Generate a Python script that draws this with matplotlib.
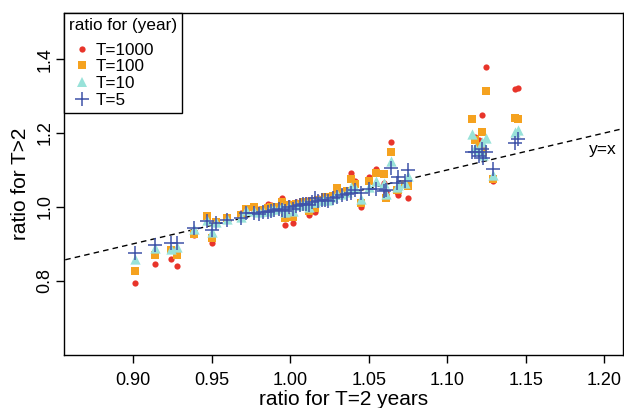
import matplotlib
matplotlib.use("Agg")
import matplotlib.pyplot as plt
from matplotlib.lines import Line2D

plt.rcParams['font.family'] = ['Liberation Sans', 'DejaVu Sans']

# ratio for T=2 years (one value per station)
x_t2 = [0.901, 0.914, 0.924, 0.928, 0.939, 0.947, 0.950, 0.953, 0.960, 0.969,
        0.972, 0.977, 0.980, 0.983, 0.986, 0.988, 0.990, 0.993, 0.995, 0.997,
        0.999, 1.002, 1.004, 1.006, 1.008, 1.010, 1.012, 1.014, 1.016, 1.018,
        1.020, 1.022, 1.024, 1.027, 1.030, 1.033, 1.036, 1.039, 1.041, 1.045,
        1.050, 1.055, 1.060, 1.061, 1.064, 1.068, 1.069, 1.073, 1.075,
        1.116, 1.118, 1.120, 1.122, 1.123, 1.125, 1.129, 1.143, 1.145]

y_t1000 = [0.793, 0.845, 0.859, 0.839, 0.925, 0.978, 0.903, 0.962, 0.966, 0.983,
           0.990, 0.985, 0.995, 0.992, 1.007, 1.005, 1.002, 1.004, 1.024, 0.951,
           1.010, 0.957, 1.012, 1.008, 1.016, 1.018, 0.978, 1.020, 0.986, 1.024,
           1.022, 1.030, 1.030, 1.026, 1.045, 1.040, 1.044, 1.093, 1.070, 1.001,
           1.080, 1.102, 1.064, 1.040, 1.177, 1.040, 1.033, 1.060, 1.024,
           1.237, 1.190, 1.182, 1.250, 1.160, 1.379, 1.070, 1.319, 1.321]

y_t100 = [0.827, 0.871, 0.883, 0.871, 0.927, 0.974, 0.917, 0.960, 0.969, 0.977,
          0.995, 0.999, 0.990, 0.992, 0.996, 1.000, 0.998, 1.000, 1.014, 0.969,
          1.006, 0.972, 1.008, 1.006, 1.012, 1.014, 0.990, 1.016, 0.998, 1.020,
          1.020, 1.026, 1.028, 1.030, 1.051, 1.038, 1.042, 1.075, 1.062, 1.010,
          1.069, 1.093, 1.089, 1.024, 1.149, 1.046, 1.046, 1.062, 1.057,
          1.237, 1.180, 1.164, 1.202, 1.150, 1.313, 1.075, 1.241, 1.239]

y_t10 = [0.859, 0.890, 0.885, 0.892, 0.939, 0.965, 0.933, 0.958, 0.966, 0.972,
         0.992, 0.988, 0.985, 0.988, 0.990, 0.995, 0.994, 0.997, 1.000, 0.985,
         1.002, 0.988, 1.004, 1.006, 1.009, 1.010, 1.000, 1.013, 1.012, 1.018,
         1.019, 1.022, 1.020, 1.027, 1.035, 1.036, 1.040, 1.055, 1.050, 1.021,
         1.055, 1.070, 1.065, 1.035, 1.123, 1.055, 1.060, 1.066, 1.085,
         1.198, 1.160, 1.155, 1.175, 1.140, 1.186, 1.087, 1.204, 1.208]

y_t5 = [0.874, 0.897, 0.901, 0.901, 0.944, 0.963, 0.938, 0.957, 0.965, 0.969,
        0.983, 0.983, 0.982, 0.985, 0.986, 0.990, 0.991, 0.994, 0.992, 0.990,
        0.999, 0.995, 1.003, 1.005, 1.007, 1.008, 1.005, 1.012, 1.024, 1.017,
        1.019, 1.020, 1.015, 1.025, 1.028, 1.033, 1.036, 1.037, 1.045, 1.037,
        1.048, 1.048, 1.042, 1.045, 1.105, 1.065, 1.082, 1.069, 1.099,
        1.150, 1.150, 1.137, 1.157, 1.132, 1.150, 1.103, 1.173, 1.184]

series_labels = ["T=1000", "T=100", "T=10", "T=5"]
c_red = "#E8342A"
c_orange = "#F5A21F"
c_cyan = "#98E2D9"
c_blue = "#3E52A8"

fig = plt.figure(figsize=(6.24, 4.08), dpi=100)
ax = fig.add_axes([0.1026, 0.130, 0.8958, 0.838])

ax.plot([0.8, 1.3], [0.8, 1.3], linestyle=(0, (4, 3)), color="black", lw=1.0, zorder=1)
ax.scatter(x_t2, y_t1000, marker="o", s=20, color=c_red, linewidths=0, zorder=2)
ax.scatter(x_t2, y_t100, marker="s", s=34, color=c_orange, linewidths=0, zorder=3)
ax.scatter(x_t2, y_t10, marker="^", s=55, color=c_cyan, linewidths=0, zorder=4)
ax.scatter(x_t2, y_t5, marker="+", s=90, color=c_blue, linewidths=1.1, zorder=5)

ax.text(1.1906, 1.155, "y=x", fontsize=12.5, ha="left", va="center")

ax.set_xlim(0.856, 1.212)
ax.set_ylim(0.599, 1.525)
ax.set_xticks([0.90, 0.95, 1.00, 1.05, 1.10, 1.15, 1.20])
ax.set_xticklabels(["0.90", "0.95", "1.00", "1.05", "1.10", "1.15", "1.20"])
ax.set_yticks([0.8, 1.0, 1.2, 1.4])
ax.set_yticklabels(["0.8", "1.0", "1.2", "1.4"], rotation=90, va="center")
ax.tick_params(axis="both", direction="out", length=6, width=1, labelsize=13)
ax.tick_params(axis="x", pad=6)
ax.tick_params(axis="y", pad=1.5)
for sp in ax.spines.values():
    sp.set_linewidth(1.0)

ax.set_xlabel("ratio for T=2 years", fontsize=15, labelpad=1)
ax.set_ylabel("ratio for T>2", fontsize=15, labelpad=5)

handles = [
    Line2D([], [], marker="o", linestyle="none", color=c_red, markersize=4.5, markeredgewidth=0),
    Line2D([], [], marker="s", linestyle="none", color=c_orange, markersize=6, markeredgewidth=0),
    Line2D([], [], marker="^", linestyle="none", color=c_cyan, markersize=7.5, markeredgewidth=0),
    Line2D([], [], marker="+", linestyle="none", color=c_blue, markersize=9.5, markeredgewidth=1.1),
]
leg = ax.legend(handles, series_labels, title="ratio for (year)", loc="upper left",
                bbox_to_anchor=(0, 1), borderaxespad=0, fontsize=12.3, title_fontsize=12.3,
                fancybox=False, framealpha=1, edgecolor="black", handlelength=1.55,
                handletextpad=0.0, labelspacing=0.09, borderpad=0.3)
leg._legend_box.align = "left"
leg._legend_box.sep = 7
leg.get_frame().set_linewidth(1.0)

fig.savefig("out.png", dpi=100)
